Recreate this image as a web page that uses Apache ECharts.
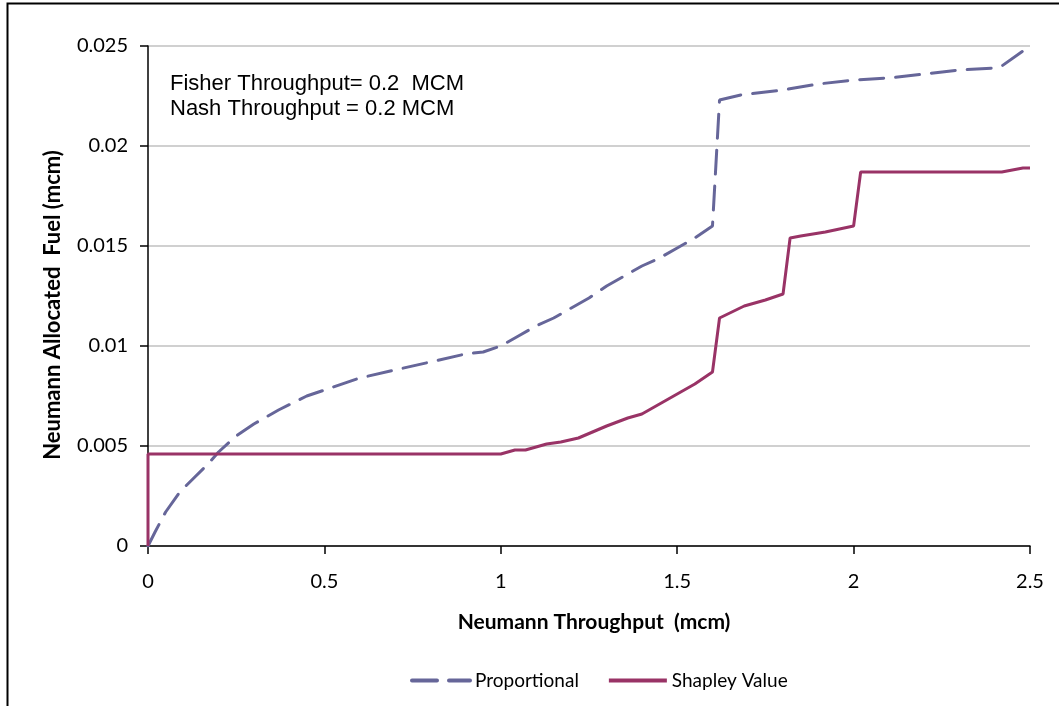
<!DOCTYPE html>
<html>
<head>
<meta charset="utf-8">
<script src="https://cdn.jsdelivr.net/npm/echarts@6/dist/echarts.min.js"></script>
<style>
html,body{margin:0;padding:0;background:#fff;}
#chart{width:1059px;height:706px;}
</style>
</head>
<body>
<div id="chart"></div>
<script>
// Proportional allocation (x = Neumann throughput, y = allocated fuel)
const propX = [0, 0.02, 0.05, 0.09, 0.13, 0.17, 0.2, 0.25, 0.3, 0.37, 0.45, 0.5, 0.6, 0.7, 0.8, 0.9, 0.95, 1.0, 1.05, 1.1, 1.15, 1.2, 1.25, 1.3, 1.35, 1.4, 1.45, 1.5, 1.55, 1.6, 1.62, 1.68, 1.8, 1.9, 2.0, 2.1, 2.2, 2.3, 2.4, 2.42, 2.5];
const propY = [0, 0.0007, 0.0017, 0.0027, 0.0034, 0.0041, 0.0047, 0.0055, 0.0061, 0.0068, 0.0075, 0.0078, 0.0084, 0.0088, 0.0092, 0.0096, 0.0097, 0.0100, 0.0105, 0.0110, 0.0114, 0.0119, 0.0124, 0.0130, 0.0135, 0.0140, 0.0144, 0.0149, 0.0154, 0.0160, 0.0223, 0.02255, 0.0228, 0.0231, 0.0233, 0.0234, 0.0236, 0.0238, 0.0239, 0.0240, 0.0250];
// Shapley value allocation
const shapX = [0, 0, 1.0, 1.04, 1.07, 1.13, 1.17, 1.22, 1.26, 1.3, 1.36, 1.4, 1.43, 1.46, 1.51, 1.55, 1.6, 1.62, 1.69, 1.75, 1.8, 1.82, 1.85, 1.92, 2.0, 2.02, 2.42, 2.48, 2.5];
const shapY = [0, 0.0046, 0.0046, 0.0048, 0.0048, 0.0051, 0.0052, 0.0054, 0.0057, 0.0060, 0.0064, 0.0066, 0.0069, 0.0072, 0.0077, 0.0081, 0.0087, 0.0114, 0.0120, 0.0123, 0.0126, 0.0154, 0.0155, 0.0157, 0.0160, 0.0187, 0.0187, 0.0189, 0.0189];
const seriesNames = ['Proportional', 'Shapley Value'];
const annotation = ['Fisher Throughput= 0.2  MCM', 'Nash Throughput = 0.2 MCM'];
const xTitle = 'Neumann Throughput  (mcm)';
const yTitle = 'Neumann Allocated  Fuel (mcm)';

const zip = (xs, ys) => xs.map((x, i) => [x, ys[i]]);
const chart = echarts.init(document.getElementById('chart'), null, {renderer: 'canvas'});
const tickFont = {fontFamily: 'Lato', fontSize: 20, color: '#000'};
chart.setOption({
  animation: false,
  backgroundColor: '#fff',
  grid: {left: 148, right: 29, top: 46, bottom: 160, containLabel: false},
  graphic: [
    {type: 'rect', shape: {x: 7.5, y: 3.5, width: 1070, height: 720}, style: {fill: 'none', stroke: '#000', lineWidth: 2}, silent: true},
    {type: 'text', left: 170, top: 71, style: {text: annotation.join('\n'), fontFamily: 'Liberation Sans', fontSize: 22, lineHeight: 25, fill: '#000'}}
  ],
  legend: {
    bottom: 11, left: 405,
    itemWidth: 58, itemHeight: 12, itemGap: 28,
    itemStyle: {opacity: 0},
    lineStyle: {width: 4},
    textStyle: {fontFamily: 'Lato', fontSize: 19, color: '#000'},
    data: [
      {name: seriesNames[0], lineStyle: {width: 4, type: [25, 12]}},
      {name: seriesNames[1]}
    ]
  },
  xAxis: {
    type: 'value', min: 0, max: 2.5, interval: 0.5,
    name: xTitle, nameLocation: 'middle', nameGap: 66,
    nameTextStyle: {fontFamily: 'Lato', fontWeight: 'bold', fontSize: 21, color: '#000', padding: [0, 0, 0, 10]},
    axisLine: {show: true, lineStyle: {color: '#000', width: 1.5}},
    axisTick: {show: true, length: 8, lineStyle: {color: '#000', width: 1.5}},
    axisLabel: Object.assign({margin: 26}, tickFont),
    splitLine: {show: false}
  },
  yAxis: {
    type: 'value', min: 0, max: 0.025, interval: 0.005,
    name: yTitle, nameLocation: 'middle', nameGap: 84, nameRotate: 90,
    nameTextStyle: {fontFamily: 'Lato', fontWeight: 'bold', fontSize: 22, color: '#000', padding: [0, 18, 0, 0]},
    axisLine: {show: true, lineStyle: {color: '#000', width: 1.5}},
    axisTick: {show: true, length: 8, lineStyle: {color: '#000', width: 1.5}},
    axisLabel: Object.assign({margin: 20, formatter: v => String(+v.toFixed(3))}, tickFont),
    splitLine: {show: true, lineStyle: {color: '#c0c0c0', width: 1.5}}
  },
  series: [
    {name: seriesNames[0], type: 'line', data: zip(propX, propY), symbol: 'none', smooth: false,
     lineStyle: {color: '#666699', width: 3, type: [24, 12], cap: 'round'}, itemStyle: {color: '#666699'}},
    {name: seriesNames[1], type: 'line', data: zip(shapX, shapY), symbol: 'none', smooth: false,
     lineStyle: {color: '#993366', width: 3}, itemStyle: {color: '#993366'}}
  ]
});
</script>
</body>
</html>
